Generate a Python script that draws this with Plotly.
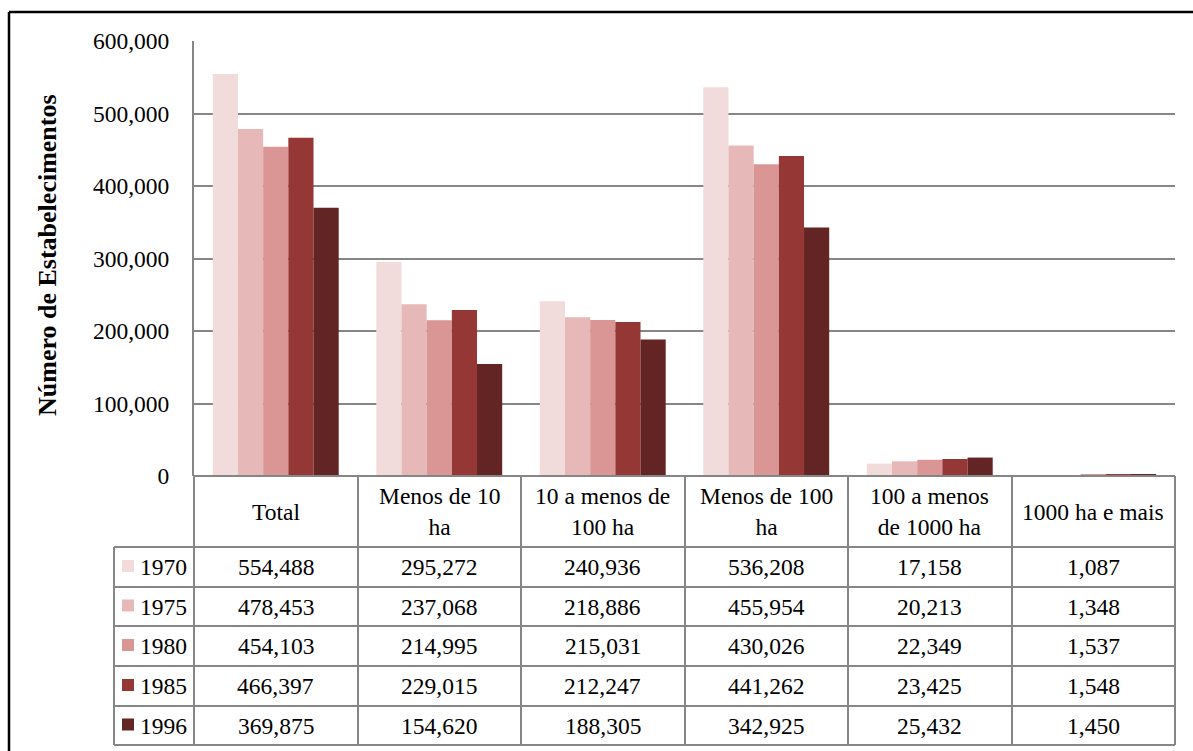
import plotly.graph_objects as go

categories = ["Total", "Menos de 10 ha", "10 a menos de 100 ha", "Menos de 100 ha",
              "100 a menos de 1000 ha", "1000 ha e mais"]
header_labels = ["Total", "Menos de 10<br>ha", "10 a menos de<br>100 ha", "Menos de 100<br>ha",
                 "100 a menos<br>de 1000 ha", "1000 ha e mais"]
years = ["1970", "1975", "1980", "1985", "1996"]
v1970 = [554488, 295272, 240936, 536208, 17158, 1087]
v1975 = [478453, 237068, 218886, 455954, 20213, 1348]
v1980 = [454103, 214995, 215031, 430026, 22349, 1537]
v1985 = [466397, 229015, 212247, 441262, 23425, 1548]
v1996 = [369875, 154620, 188305, 342925, 25432, 1450]
series = [v1970, v1975, v1980, v1985, v1996]
colors = ["#F2DCDB", "#E6B9B8", "#D99694", "#953735", "#632523"]

W, H = 1193, 751
FONT = "Liberation Serif"
GRID = "#868686"


def px(x):
    return x / W


def py(y):
    return 1 - y / H


plot_l, plot_r, plot_t, plot_b = 194, 1175, 41, 476
row_lines = [547, 587, 626, 666, 706, 745]
col_lines = [194, 358, 521, 685, 848, 1012, 1175]
leg_l = 114

fig = go.Figure()
for name, vals, c in zip(years, series, colors):
    fig.add_trace(go.Bar(x=categories, y=vals, name=name, marker=dict(color=c, line=dict(width=0)),
                         showlegend=False))

shapes = []
shapes.append(dict(type="line", xref="paper", yref="paper", x0=px(9), x1=px(W + 5), y0=py(12), y1=py(12),
                   line=dict(color="black", width=2.5)))
shapes.append(dict(type="line", xref="paper", yref="paper", x0=px(9), x1=px(9), y0=py(12), y1=py(H + 5),
                   line=dict(color="black", width=2.5)))
shapes.append(dict(type="line", xref="paper", yref="paper", x0=px(plot_l), x1=px(plot_r), y0=py(plot_b), y1=py(plot_b),
                   line=dict(color=GRID, width=2)))
for yl in row_lines:
    shapes.append(dict(type="line", xref="paper", yref="paper", x0=px(leg_l), x1=px(plot_r), y0=py(yl), y1=py(yl),
                       line=dict(color=GRID, width=2)))
for xl in col_lines:
    shapes.append(dict(type="line", xref="paper", yref="paper", x0=px(xl), x1=px(xl), y0=py(plot_b), y1=py(row_lines[-1]),
                       line=dict(color=GRID, width=2)))
shapes.append(dict(type="line", xref="paper", yref="paper", x0=px(leg_l), x1=px(leg_l), y0=py(row_lines[0]), y1=py(row_lines[-1]),
                   line=dict(color=GRID, width=2)))

annotations = []
fs = 23.5
for cat, lab in zip(categories, header_labels):
    annotations.append(dict(x=cat, xref="x", y=py((plot_b + row_lines[0]) / 2), yref="paper", text=lab,
                            showarrow=False, font=dict(family=FONT, size=fs, color="black"),
                            xanchor="center", yanchor="middle", align="center"))
for i, (name, vals, c) in enumerate(zip(years, series, colors)):
    yc = (row_lines[i] + row_lines[i + 1]) / 2
    shapes.append(dict(type="rect", xref="paper", yref="paper", x0=px(122), x1=px(134), y0=py(yc - 7), y1=py(yc + 5),
                       fillcolor=c, line=dict(width=0)))
    annotations.append(dict(x=px(138), xref="paper", y=py(yc), yref="paper", text=name, showarrow=False,
                            font=dict(family=FONT, size=fs, color="black"), xanchor="left", yanchor="middle"))
    for cat, v in zip(categories, vals):
        annotations.append(dict(x=cat, xref="x", y=py(yc), yref="paper", text=f"{v:,}", showarrow=False,
                                font=dict(family=FONT, size=fs, color="black"), xanchor="center", yanchor="middle"))
annotations.append(dict(x=px(47), xref="paper", y=py(255), yref="paper", text="<b>Número de Estabelecimentos</b>",
                        showarrow=False, textangle=-90, font=dict(family=FONT, size=26, color="black"),
                        xanchor="center", yanchor="middle"))

fig.update_layout(
    width=W, height=H, margin=dict(l=0, r=0, t=0, b=0, autoexpand=False),
    paper_bgcolor="white", plot_bgcolor="white",
    barmode="group", bargap=0.23, bargroupgap=0,
    xaxis=dict(domain=[px(plot_l), px(plot_r)], showticklabels=False, showgrid=False, zeroline=False,
               showline=False, ticks="", fixedrange=True),
    yaxis=dict(domain=[py(plot_b), py(plot_t)], range=[0, 600000], dtick=100000, tickformat=",",
               showgrid=True, gridcolor=GRID, gridwidth=2, zeroline=False,
               showline=True, linecolor=GRID, linewidth=2, ticks="", ticklabelstandoff=18,
               tickfont=dict(family=FONT, size=fs, color="black")),
    shapes=shapes, annotations=annotations,
    font=dict(family=FONT, color="black"),
)

fig.write_html("out.html", config={"responsive": False, "displayModeBar": False},
               post_script="document.body.style.margin='0';document.body.style.padding='0';"
                           "document.documentElement.style.overflow='hidden';")
